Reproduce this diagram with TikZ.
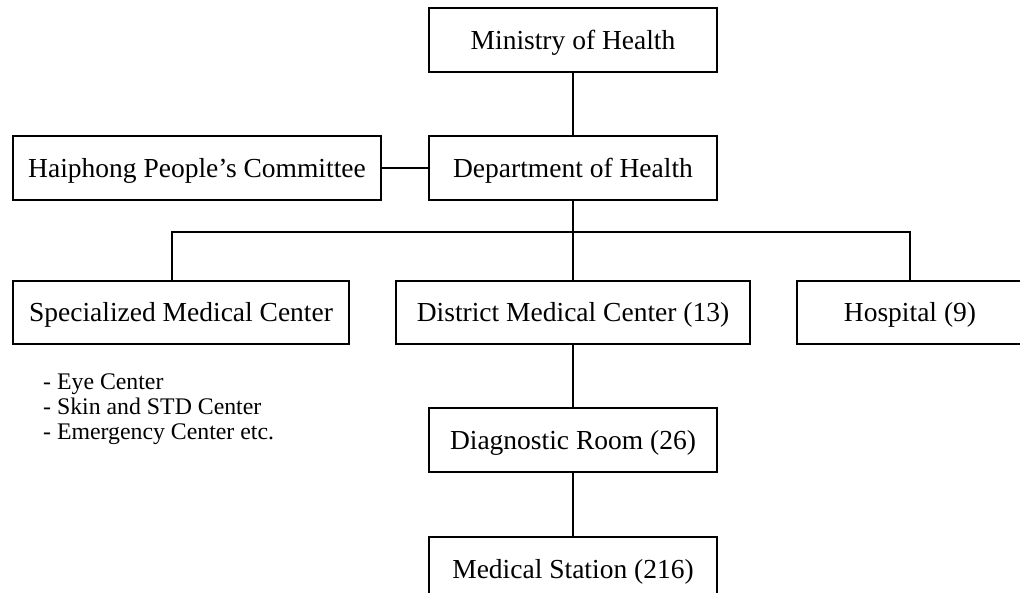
\documentclass[tikz,border=0pt]{standalone}
\usepackage{fontspec}
\setmainfont{Liberation Serif}
\begin{document}
\begin{tikzpicture}[x=1pt,y=-1pt,
  orgbox/.style={draw, line width=1.2pt, inner sep=0pt, minimum height=64pt,
    text height=18.2pt, text depth=0pt, font=\fontsize{27.5}{30}\selectfont},
  subitem/.style={anchor=base west, inner sep=0pt, font=\fontsize{23.8}{25}\selectfont},
  link/.style={line width=1.2pt}]
\useasboundingbox (0,0) rectangle (1020,593);
\clip (0,0) rectangle (1020,593);
\node[orgbox, minimum width=288pt] (min) at (573,40) {Ministry of Health};
\node[orgbox, minimum width=288pt] (dept) at (573,168) {Department of Health};
\node[orgbox, minimum width=368pt] (hpc) at (197,168) {Haiphong People’s Committee};
\node[orgbox, minimum width=336pt, minimum height=63pt] (smc) at (181,312.5) {Specialized Medical Center};
\node[orgbox, minimum width=354pt, minimum height=63pt] (dmc) at (573,312.5) {District Medical Center (13)};
\node[orgbox, minimum width=226pt, minimum height=63pt] (hosp) at (910,312.5) {Hospital (9)};
\node[orgbox, minimum width=288pt] (diag) at (573,440) {Diagnostic Room (26)};
\node[orgbox, minimum width=288pt] (ms) at (573,569) {Medical Station (216)};
\node[subitem] (l1) at (43,389) {- Eye Center};
\node[subitem] (l2) at (43,414) {- Skin and STD Center};
\node[subitem] (l3) at (43,439) {- Emergency Center etc.};
\coordinate (busL) at (172,232);
\coordinate (busR) at (910,232);
\draw[link] (min.south) -- (dept.north);
\draw[link] (hpc.east) -- (dept.west);
\draw[link] (dept.south) -- (dmc.north);
\draw[link] (busL |- smc.north) -- (busL) -- (busR) -- (hosp.north);
\draw[link] (dmc.south) -- (diag.north);
\draw[link] (diag.south) -- (ms.north);
\end{tikzpicture}
\end{document}
